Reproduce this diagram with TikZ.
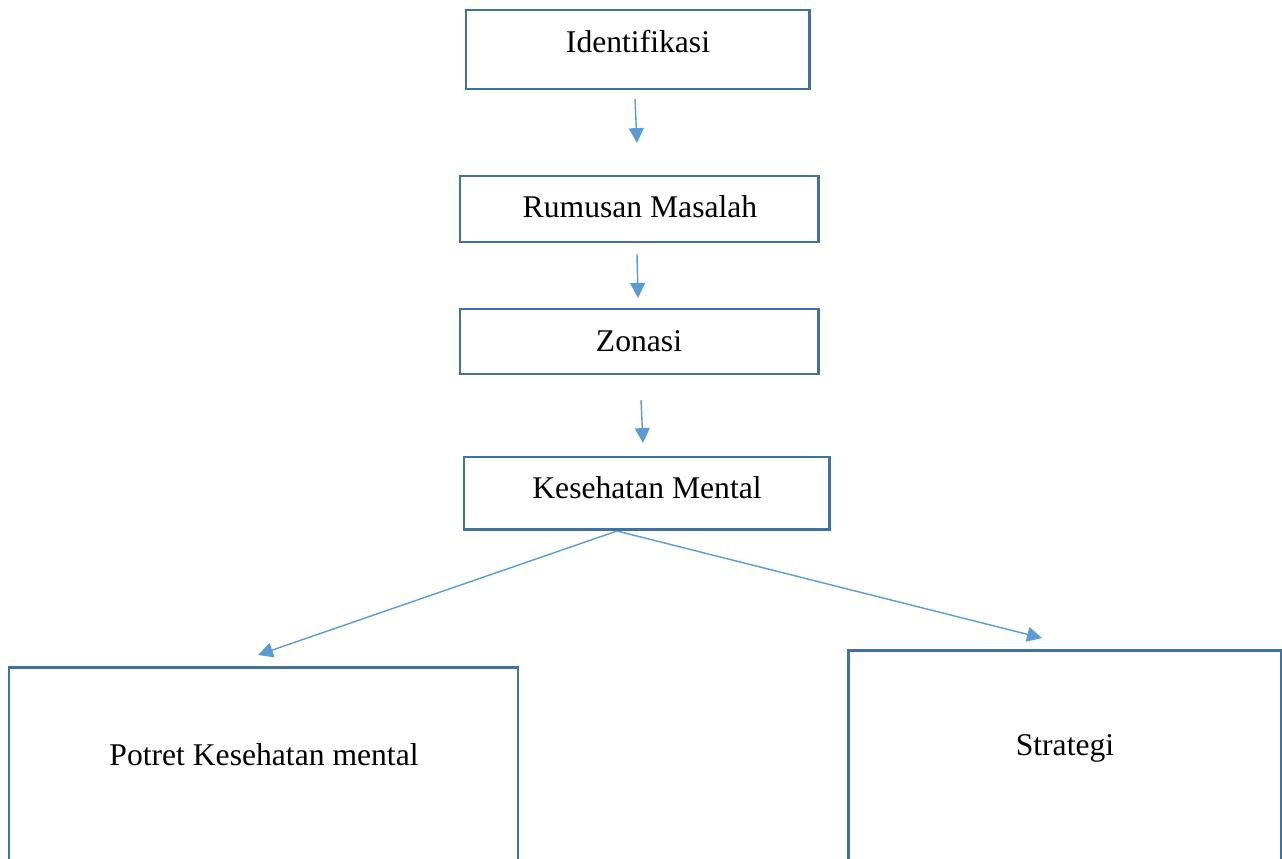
\documentclass[tikz,border=0pt]{standalone}
\usepackage{fontspec}
\setmainfont{Liberation Serif}
\usepackage{tikz}
\usetikzlibrary{arrows.meta, positioning, calc}

\definecolor{garis}{HTML}{41719C}
\definecolor{panah}{HTML}{5B9BD5}

\tikzset{
  kotak/.style={draw=garis, line width=1.7pt},
  teks/.style={anchor=base, inner sep=0pt, font=\fontsize{18}{22}\selectfont},
  alur/.style={draw=panah, line width=0.8pt, -{Triangle[length=8.5pt, width=8.5pt]}}
}

\begin{document}
\begin{tikzpicture}[x=0.02cm, y=-0.02cm]
\useasboundingbox (0,0) rectangle (1282,859);
\clip (0,0) rectangle (1282,859);

% Boxes
\draw[kotak] (466,10) rectangle (809,89);
\node[teks] (identifikasi) at (638,52) {Identifikasi};

\draw[kotak] (460,176) rectangle (818,242);
\node[teks] (rumusan) at (640,217) {Rumusan Masalah};

\draw[kotak] (460,309) rectangle (818,374);
\node[teks] (zonasi) at (639,351) {Zonasi};

\draw[kotak] (464,457) rectangle (829,529);
\node[teks] (kesehatan) at (647,498) {Kesehatan Mental};

\draw[kotak] (9,667) rectangle (518,880);
\node[teks] (potret) at (264,765) {Potret Kesehatan mental};

\draw[kotak] (848,650) rectangle (1281,880);
\node[teks] (strategi) at (1065,755) {Strategi};

% Arrow ends
\coordinate (a1) at (635,99);  \coordinate (b1) at (637,143);
\coordinate (a2) at (637,254); \coordinate (b2) at (638,298);
\coordinate (a3) at (641,400); \coordinate (b3) at (643,443);
\coordinate (pusat) at (617,531);
\coordinate (kiri) at (258,655);
\coordinate (kanan) at (1042,638);

% Arrows
\draw[alur] (a1) -- (b1);
\draw[alur] (a2) -- (b2);
\draw[alur] (a3) -- (b3);
\draw[alur] (pusat) -- (kiri);
\draw[alur] (pusat) -- (kanan);
\end{tikzpicture}
\end{document}
